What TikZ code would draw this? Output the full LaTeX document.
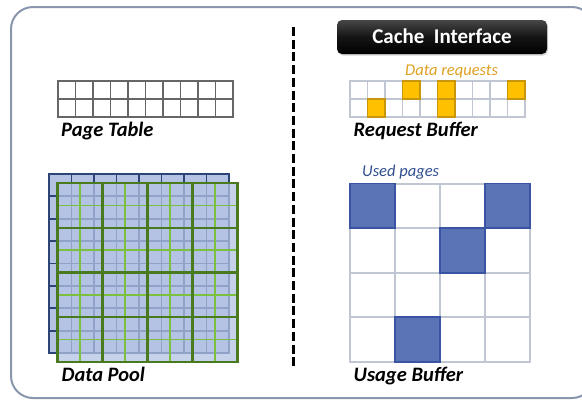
\documentclass[tikz,border=0pt]{standalone}
\usepackage{fontspec}
\setmainfont{Carlito}
\usetikzlibrary{shadows}
\definecolor{frame}{HTML}{8A96AD}
\definecolor{navy}{HTML}{2C4478}
\definecolor{poolfill}{HTML}{B4C2E4}
\definecolor{gdark}{HTML}{4A7A1E}
\definecolor{glight}{HTML}{7CC040}
\definecolor{lgrid}{HTML}{C0C6D2}
\definecolor{orfill}{HTML}{FFC000}
\definecolor{ordraw}{HTML}{C8960C}
\definecolor{ortext}{HTML}{E0A020}
\definecolor{usedfill}{HTML}{5B74B6}
\definecolor{useddraw}{HTML}{3A54A4}
\definecolor{usedtext}{HTML}{2F4F8F}
\newcommand{\mygrid}[7]{% x0,y0,nx,ny,dx,dy,style
  \foreach \i in {0,...,#3}{\draw[#7] ({#1+\i*#5},#2) -- ({#1+\i*#5},{#2+#4*#6});}
  \foreach \j in {0,...,#4}{\draw[#7] (#1,{#2+\j*#6}) -- ({#1+#3*#5},{#2+\j*#6});}
}
\begin{document}
\begin{tikzpicture}[x=1pt,y=-1pt,
  lbl/.style={font=\fontsize{20.5}{22}\selectfont\bfseries\itshape,anchor=base west,inner sep=0pt},
  note/.style={font=\fontsize{16.5}{18}\selectfont\itshape,anchor=base west,inner sep=0pt}]
\useasboundingbox (0,0) rectangle (582,400);
\fill[white] (0,0) rectangle (582,400);
% outer frame
\draw[frame,line width=2pt,rounded corners=22pt] (11,7) rectangle (594,398);
% divider
\draw[black,line width=3pt,dash pattern=on 9pt off 3.7pt] (293,27) -- (293,366);

% Page table
\mygrid{58}{81}{10}{2}{17.5}{18}{gray!80!black,line width=1.6pt,line cap=rect}
\node[lbl] (pt) at (61,136.5) {Page Table};

% Data pool back grid
\fill[poolfill] (49,174) rectangle (229,353);
\mygrid{49}{174}{8}{8}{22.5}{22.375}{navy,line width=1.8pt,line cap=rect}
% front grid
\fill[poolfill,opacity=0.75] (57.5,183) rectangle (237.5,362);
\mygrid{57.5}{183}{8}{8}{22.5}{22.375}{glight,line width=1.3pt}
\mygrid{57.5}{183}{4}{4}{45}{44.75}{gdark,line width=2.2pt,line cap=rect}
\node[lbl] (dp) at (61.5,381) {Data Pool};

% Cache interface
\shade[top color=black!72,bottom color=black,middle color=black!92,rounded corners=5pt,
  drop shadow={shadow xshift=1pt,shadow yshift=-1.5pt,opacity=0.35}]
  (337,20) rectangle (547,54);
\node[font=\fontsize{21}{23}\selectfont\bfseries,text=white,anchor=base,inner sep=0pt] (ci) at (442,43.5) {Cache\ \ Interface};

% Request buffer
\node[note,text=ortext] (dr) at (405,75) {Data requests};
\mygrid{350}{81}{10}{2}{17.5}{18}{lgrid,line width=1.8pt,line cap=rect}
\foreach \c/\r in {3/0,5/0,9/0,1/1,5/1}{
  \filldraw[fill=orfill,draw=ordraw,line width=1.6pt]
    ({350+\c*17.5},{81+\r*18}) rectangle ++(17.5,18);
}
\node[lbl] (rb) at (353.5,136.5) {Request Buffer};

% Usage buffer
\node[note,text=usedtext] (up) at (362,176.5) {Used pages};
\mygrid{350}{183.5}{4}{4}{45}{44.625}{lgrid,line width=2pt,line cap=rect}
\foreach \c/\r in {0/0,3/0,2/1,1/3}{
  \filldraw[fill=usedfill,draw=useddraw,line width=1.8pt]
    ({350+\c*45},{183.5+\r*44.625}) rectangle ++(45,44.625);
}
\node[lbl] (ub) at (353.5,381.5) {Usage Buffer};
\end{tikzpicture}
\end{document}
